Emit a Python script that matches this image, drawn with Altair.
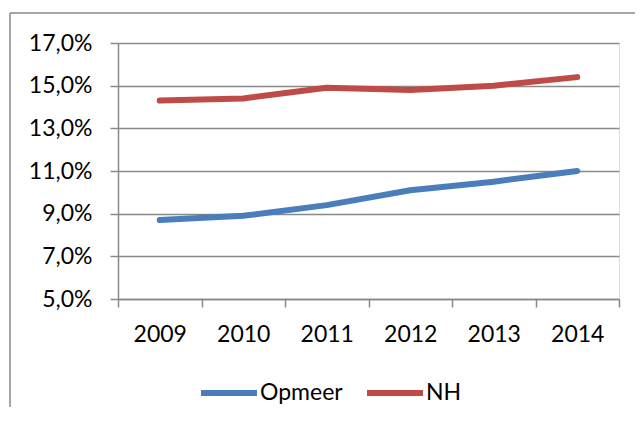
import altair as alt
import pandas as pd

years = ["2009", "2010", "2011", "2012", "2013", "2014"]
opmeer = [0.087, 0.089, 0.094, 0.101, 0.105, 0.110]
nh = [0.143, 0.144, 0.149, 0.148, 0.150, 0.154]
series = ["Opmeer", "NH"]
colors = ["#4A7EBB", "#BE4B48"]
y_ticks = [0.05, 0.07, 0.09, 0.11, 0.13, 0.15, 0.17]

rows = []
for name, vals in zip(series, [opmeer, nh]):
    for yr, v in zip(years, vals):
        rows.append({"year": yr, "value": v, "series": name})
df = pd.DataFrame(rows)

FONT = "Lato"
GRAY = "#898989"

lines = alt.Chart(df).mark_line(strokeWidth=6, strokeCap="round", strokeJoin="round").encode(
    x=alt.X("year:N", sort=years, title=None,
            axis=alt.Axis(labelAngle=0, tickBand="extent", tickSize=8, tickColor=GRAY,
                          tickWidth=1.5, domainColor=GRAY, domainWidth=1.5,
                          labelFont=FONT, labelFontSize=23, labelColor="black",
                          labelPadding=16, grid=False)),
    y=alt.Y("value:Q", title=None,
            scale=alt.Scale(domain=[0.05, 0.17], nice=False, zero=False),
            axis=alt.Axis(values=y_ticks,
                          labelExpr="replace(format(datum.value, '.1%'), '.', ',')",
                          tickSize=8, tickColor=GRAY, tickWidth=1.5,
                          domainColor=GRAY, domainWidth=1.5,
                          gridColor=GRAY, gridWidth=1.5,
                          labelFont=FONT, labelFontSize=23, labelColor="black",
                          labelPadding=18)),
    color=alt.Color("series:N", sort=series,
                    scale=alt.Scale(domain=series, range=colors),
                    legend=alt.Legend(title=None, orient="none", direction="horizontal",
                                      legendX=80, legendY=319,
                                      symbolType="M-1,0L1,0", symbolSize=3136,
                                      symbolStrokeWidth=6,
                                      labelFont=FONT, labelFontSize=23, labelColor="black",
                                      labelOffset=0, columnPadding=12)),
)

one = pd.DataFrame({"a": [0]})
frame_top = alt.Chart(one).mark_rule(color=GRAY, strokeWidth=1.5).encode(
    x=alt.value(-108), x2=alt.value(700), y=alt.value(-30))
frame_left = alt.Chart(one).mark_rule(color=GRAY, strokeWidth=1.5).encode(
    x=alt.value(-108), y=alt.value(-30), y2=alt.value(500))

chart = alt.layer(frame_top, frame_left, lines).properties(
    width=501, height=256,
    autosize=alt.AutoSizeParams(type="none"),
    padding={"left": 110, "top": 35, "right": 16, "bottom": 108},
).configure_view(stroke=None).configure(background="white")

chart.save("out.html", embed_options={"renderer": "svg", "actions": False})
